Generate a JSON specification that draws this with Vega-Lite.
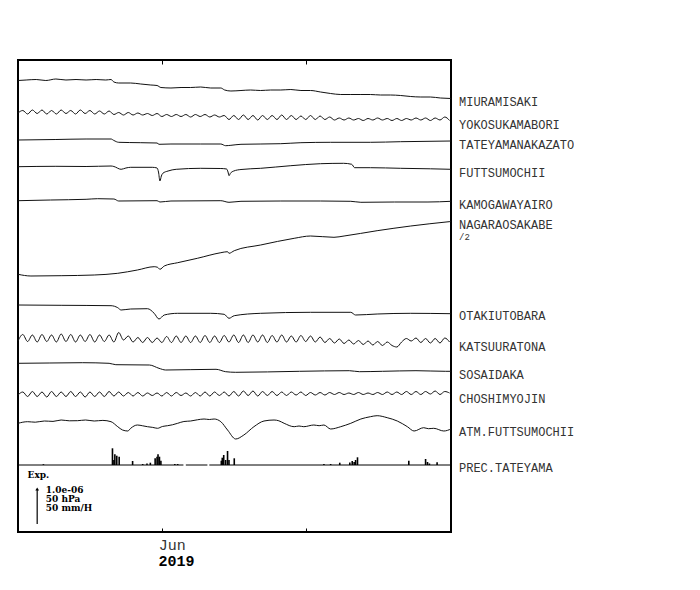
{
  "$schema": "https://vega.github.io/schema/vega-lite/v6.json",
  "width": 433,
  "height": 472,
  "padding": {"left": 16, "top": 59, "right": 0, "bottom": 30},
  "autosize": {"type": "pad"},
  "background": "white",
  "config": {"view": {"stroke": "black", "strokeWidth": 2}, "axis": {"grid": false, "domain": false}},
  "datasets": {
    "traces": [
      {"s":"MI","d":122,"v":451.5},{"s":"MI","d":123.7,"v":452},{"s":"MI","d":125.8,"v":452.5},{"s":"MI","d":127.8,"v":451.5},{"s":"MI","d":129.9,"v":453},{"s":"MI","d":132,"v":452},{"s":"MI","d":134.1,"v":452.5},{"s":"MI","d":136.2,"v":452},{"s":"MI","d":138.3,"v":452.5},{"s":"MI","d":140.3,"v":452},{"s":"MI","d":141.4,"v":452.5},{"s":"MI","d":142,"v":450},{"s":"MI","d":143,"v":449},{"s":"MI","d":145.5,"v":449},{"s":"MI","d":147.6,"v":448},{"s":"MI","d":149.7,"v":447},{"s":"MI","d":151,"v":446.5},{"s":"MI","d":151.8,"v":444.5},{"s":"MI","d":153.9,"v":444},{"s":"MI","d":156,"v":444.5},{"s":"MI","d":158,"v":444.5},{"s":"MI","d":160.1,"v":445},{"s":"MI","d":162.2,"v":444},{"s":"MI","d":164.3,"v":444},{"s":"MI","d":165.1,"v":442},{"s":"MI","d":166.4,"v":441},{"s":"MI","d":168.5,"v":441.5},{"s":"MI","d":170.5,"v":442},{"s":"MI","d":172.6,"v":441.5},{"s":"MI","d":174.7,"v":442},{"s":"MI","d":176.8,"v":442},{"s":"MI","d":178.9,"v":442.5},{"s":"MI","d":181,"v":441.5},{"s":"MI","d":183,"v":441.5},{"s":"MI","d":185.1,"v":440},{"s":"MI","d":187.2,"v":438.5},{"s":"MI","d":189.3,"v":437.5},{"s":"MI","d":191.4,"v":437.5},{"s":"MI","d":193.5,"v":437.5},{"s":"MI","d":195.5,"v":437.5},{"s":"MI","d":197.6,"v":437},{"s":"MI","d":199.7,"v":437},{"s":"MI","d":201.8,"v":436.5},{"s":"MI","d":203.9,"v":435.5},{"s":"MI","d":206,"v":435},{"s":"MI","d":208,"v":435},{"s":"MI","d":210.1,"v":434},{"s":"MI","d":212.3,"v":433.5},

      {"s":"YO","d":122,"v":419},{"s":"YO","d":123,"v":421.5},{"s":"YO","d":124,"v":418},{"s":"YO","d":125,"v":422},{"s":"YO","d":126,"v":418.5},{"s":"YO","d":127,"v":422},{"s":"YO","d":128,"v":418},{"s":"YO","d":129,"v":421.5},{"s":"YO","d":130,"v":418},{"s":"YO","d":131,"v":422},{"s":"YO","d":132,"v":418.5},{"s":"YO","d":133,"v":421.5},{"s":"YO","d":134,"v":418},{"s":"YO","d":135,"v":422},{"s":"YO","d":136,"v":418.5},{"s":"YO","d":137,"v":421.5},{"s":"YO","d":138,"v":418},{"s":"YO","d":139,"v":421},{"s":"YO","d":140,"v":418},{"s":"YO","d":141,"v":421},{"s":"YO","d":142,"v":417.5},{"s":"YO","d":143,"v":419.5},{"s":"YO","d":144,"v":417},{"s":"YO","d":145,"v":419.5},{"s":"YO","d":146,"v":417},{"s":"YO","d":147,"v":419},{"s":"YO","d":148,"v":417},{"s":"YO","d":149,"v":418.5},{"s":"YO","d":150,"v":416.5},{"s":"YO","d":151,"v":418.5},{"s":"YO","d":152,"v":415.5},{"s":"YO","d":153,"v":417.5},{"s":"YO","d":154,"v":415.5},{"s":"YO","d":155,"v":417.5},{"s":"YO","d":156,"v":415.5},{"s":"YO","d":157,"v":417.5},{"s":"YO","d":158,"v":415},{"s":"YO","d":159,"v":417.5},{"s":"YO","d":160,"v":415.5},{"s":"YO","d":161,"v":417.5},{"s":"YO","d":162,"v":415},{"s":"YO","d":163,"v":417},{"s":"YO","d":164,"v":415},{"s":"YO","d":165,"v":416.5},{"s":"YO","d":166,"v":412.5},{"s":"YO","d":167,"v":416.5},{"s":"YO","d":168,"v":412.5},{"s":"YO","d":169,"v":417},{"s":"YO","d":170,"v":412.5},{"s":"YO","d":171,"v":416.5},{"s":"YO","d":172,"v":412},{"s":"YO","d":173,"v":416.5},{"s":"YO","d":174,"v":412.5},{"s":"YO","d":175,"v":416.5},{"s":"YO","d":176,"v":412.5},{"s":"YO","d":177,"v":417},{"s":"YO","d":178,"v":412.5},{"s":"YO","d":179,"v":416.5},{"s":"YO","d":180,"v":412.5},{"s":"YO","d":181,"v":416},{"s":"YO","d":182,"v":412.5},{"s":"YO","d":183,"v":416.5},{"s":"YO","d":184,"v":412.5},{"s":"YO","d":185,"v":416},{"s":"YO","d":186,"v":412.5},{"s":"YO","d":187,"v":415},{"s":"YO","d":188,"v":412},{"s":"YO","d":189,"v":414},{"s":"YO","d":190,"v":412},{"s":"YO","d":191,"v":414},{"s":"YO","d":192,"v":412},{"s":"YO","d":193,"v":413.5},{"s":"YO","d":194,"v":411.5},{"s":"YO","d":195,"v":413.5},{"s":"YO","d":196,"v":412},{"s":"YO","d":197,"v":414},{"s":"YO","d":198,"v":412},{"s":"YO","d":199,"v":413.5},{"s":"YO","d":200,"v":411.5},{"s":"YO","d":201,"v":413.5},{"s":"YO","d":202,"v":411.5},{"s":"YO","d":203,"v":413.5},{"s":"YO","d":204,"v":412},{"s":"YO","d":205,"v":414},{"s":"YO","d":206,"v":412},{"s":"YO","d":207,"v":414},{"s":"YO","d":208,"v":411.5},{"s":"YO","d":209,"v":414},{"s":"YO","d":210,"v":412},{"s":"YO","d":211,"v":415},{"s":"YO","d":212,"v":411.5},

      {"s":"TA","d":122,"v":392},{"s":"TA","d":129.9,"v":392.5},{"s":"TA","d":136.2,"v":393},{"s":"TA","d":141.4,"v":393},{"s":"TA","d":142,"v":391.5},{"s":"TA","d":143,"v":389.7},{"s":"TA","d":147.6,"v":389.3},{"s":"TA","d":151,"v":389},{"s":"TA","d":151.4,"v":387.7},{"s":"TA","d":153.9,"v":388},{"s":"TA","d":160.1,"v":388},{"s":"TA","d":164.3,"v":388},{"s":"TA","d":165.3,"v":386.3},{"s":"TA","d":166.4,"v":386.7},{"s":"TA","d":168.5,"v":387.7},{"s":"TA","d":176.8,"v":388.3},{"s":"TA","d":181,"v":389.3},{"s":"TA","d":187.2,"v":389.7},{"s":"TA","d":195.5,"v":389.7},{"s":"TA","d":201.8,"v":390.3},{"s":"TA","d":212.3,"v":391},

      {"s":"FU","d":122,"v":365.3},{"s":"FU","d":129.9,"v":365.7},{"s":"FU","d":136.2,"v":365.5},{"s":"FU","d":141.4,"v":366},{"s":"FU","d":142,"v":365.5},{"s":"FU","d":143.5,"v":362.7},{"s":"FU","d":144.5,"v":364},{"s":"FU","d":145.5,"v":364.7},{"s":"FU","d":150,"v":364.7},{"s":"FU","d":151,"v":364},{"s":"FU","d":151.3,"v":360},{"s":"FU","d":151.6,"v":351},{"s":"FU","d":151.9,"v":356},{"s":"FU","d":152.2,"v":358.7},{"s":"FU","d":153.3,"v":361},{"s":"FU","d":155,"v":362.7},{"s":"FU","d":160.1,"v":363.7},{"s":"FU","d":164.3,"v":363.5},{"s":"FU","d":165.5,"v":363},{"s":"FU","d":165.8,"v":360},{"s":"FU","d":166,"v":356.3},{"s":"FU","d":166.3,"v":358.7},{"s":"FU","d":167,"v":361},{"s":"FU","d":168.5,"v":362.5},{"s":"FU","d":172.6,"v":363.7},{"s":"FU","d":178.9,"v":366.3},{"s":"FU","d":185.1,"v":368.3},{"s":"FU","d":189.9,"v":368.7},{"s":"FU","d":191.6,"v":367.7},{"s":"FU","d":192.2,"v":364.3},{"s":"FU","d":195.5,"v":364.3},{"s":"FU","d":201.8,"v":363.7},{"s":"FU","d":208,"v":363.2},{"s":"FU","d":212.3,"v":362.7},

      {"s":"KA","d":122,"v":331.3},{"s":"KA","d":128.8,"v":332},{"s":"KA","d":136.2,"v":332.7},{"s":"KA","d":138.6,"v":333.3},{"s":"KA","d":142,"v":333},{"s":"KA","d":143,"v":331},{"s":"KA","d":151,"v":331.3},{"s":"KA","d":151.6,"v":330},{"s":"KA","d":153.9,"v":331},{"s":"KA","d":164.3,"v":331.3},{"s":"KA","d":166,"v":329.7},{"s":"KA","d":168.5,"v":330.7},{"s":"KA","d":176.8,"v":331},{"s":"KA","d":185.1,"v":331},{"s":"KA","d":191.4,"v":330.7},{"s":"KA","d":193.5,"v":329.7},{"s":"KA","d":200.5,"v":330},{"s":"KA","d":207.5,"v":330},{"s":"KA","d":212.3,"v":330.7},

      {"s":"NA","d":122,"v":257.7},{"s":"NA","d":124.7,"v":256},{"s":"NA","d":131,"v":256.3},{"s":"NA","d":137.9,"v":257},{"s":"NA","d":142.8,"v":258.7},{"s":"NA","d":146.9,"v":262},{"s":"NA","d":150.4,"v":265.3},{"s":"NA","d":151.1,"v":264.7},{"s":"NA","d":151.6,"v":262.7},{"s":"NA","d":152.5,"v":266},{"s":"NA","d":155.3,"v":269.3},{"s":"NA","d":159.4,"v":273.7},{"s":"NA","d":164.3,"v":279.3},{"s":"NA","d":165.7,"v":280.3},{"s":"NA","d":166,"v":278.7},{"s":"NA","d":167.1,"v":281.3},{"s":"NA","d":172.6,"v":287},{"s":"NA","d":179.6,"v":293.7},{"s":"NA","d":183,"v":296},{"s":"NA","d":187.9,"v":294.7},{"s":"NA","d":190,"v":296},{"s":"NA","d":196.9,"v":301.3},{"s":"NA","d":203.9,"v":306},{"s":"NA","d":211.9,"v":310.3},{"s":"NA","d":212.3,"v":310.5},

      {"s":"OT","d":122,"v":227},{"s":"OT","d":131,"v":226.7},{"s":"OT","d":141.4,"v":226.3},{"s":"OT","d":142.8,"v":224.3},{"s":"OT","d":143.5,"v":222},{"s":"OT","d":145.5,"v":223},{"s":"OT","d":149,"v":223.3},{"s":"OT","d":150.4,"v":218.7},{"s":"OT","d":151.4,"v":213},{"s":"OT","d":152.5,"v":217},{"s":"OT","d":155.3,"v":218.7},{"s":"OT","d":162.2,"v":218.7},{"s":"OT","d":165,"v":217.7},{"s":"OT","d":166,"v":213.7},{"s":"OT","d":167.1,"v":216.3},{"s":"OT","d":172.6,"v":218.7},{"s":"OT","d":183,"v":219.7},{"s":"OT","d":191.4,"v":219.7},{"s":"OT","d":192.4,"v":217},{"s":"OT","d":196.9,"v":218},{"s":"OT","d":203.9,"v":218.7},{"s":"OT","d":212.3,"v":218.3},

      {"s":"KT","d":122,"v":191},{"s":"KT","d":123,"v":197.5},{"s":"KT","d":124,"v":190.5},{"s":"KT","d":125,"v":197},{"s":"KT","d":126,"v":190},{"s":"KT","d":127,"v":197.5},{"s":"KT","d":128,"v":190.5},{"s":"KT","d":129,"v":197},{"s":"KT","d":130,"v":190},{"s":"KT","d":131,"v":198},{"s":"KT","d":132,"v":190.5},{"s":"KT","d":133,"v":197.5},{"s":"KT","d":134,"v":190},{"s":"KT","d":135,"v":197},{"s":"KT","d":136,"v":190.5},{"s":"KT","d":137,"v":197.5},{"s":"KT","d":138,"v":190},{"s":"KT","d":139,"v":197},{"s":"KT","d":140,"v":190.5},{"s":"KT","d":141,"v":197},{"s":"KT","d":142,"v":190},{"s":"KT","d":143,"v":199.5},{"s":"KT","d":144,"v":192},{"s":"KT","d":145,"v":196},{"s":"KT","d":146,"v":190},{"s":"KT","d":147,"v":194.5},{"s":"KT","d":148,"v":189.5},{"s":"KT","d":149,"v":194.5},{"s":"KT","d":150,"v":189.5},{"s":"KT","d":151,"v":194},{"s":"KT","d":152,"v":189.5},{"s":"KT","d":153,"v":195.5},{"s":"KT","d":154,"v":189.5},{"s":"KT","d":155,"v":196},{"s":"KT","d":156,"v":189.5},{"s":"KT","d":157,"v":196},{"s":"KT","d":158,"v":189.5},{"s":"KT","d":159,"v":196},{"s":"KT","d":160,"v":189.5},{"s":"KT","d":161,"v":196.5},{"s":"KT","d":162,"v":189.5},{"s":"KT","d":163,"v":196},{"s":"KT","d":164,"v":189.5},{"s":"KT","d":165,"v":196.5},{"s":"KT","d":166,"v":190},{"s":"KT","d":167,"v":197},{"s":"KT","d":168,"v":189.5},{"s":"KT","d":169,"v":197},{"s":"KT","d":170,"v":189.5},{"s":"KT","d":171,"v":197},{"s":"KT","d":172,"v":190},{"s":"KT","d":173,"v":197},{"s":"KT","d":174,"v":189.5},{"s":"KT","d":175,"v":196.5},{"s":"KT","d":176,"v":190},{"s":"KT","d":177,"v":197},{"s":"KT","d":178,"v":190},{"s":"KT","d":179,"v":196},{"s":"KT","d":180,"v":190},{"s":"KT","d":181,"v":196.5},{"s":"KT","d":182,"v":190.5},{"s":"KT","d":183,"v":196},{"s":"KT","d":184,"v":190},{"s":"KT","d":185,"v":195},{"s":"KT","d":186,"v":189.5},{"s":"KT","d":187,"v":193.5},{"s":"KT","d":188,"v":189},{"s":"KT","d":189,"v":193},{"s":"KT","d":190,"v":188.5},{"s":"KT","d":191,"v":192},{"s":"KT","d":192,"v":188},{"s":"KT","d":193,"v":191.5},{"s":"KT","d":194,"v":187.5},{"s":"KT","d":195,"v":191},{"s":"KT","d":196,"v":187},{"s":"KT","d":197,"v":190.5},{"s":"KT","d":198,"v":186.5},{"s":"KT","d":199,"v":190},{"s":"KT","d":200,"v":186.5},{"s":"KT","d":201,"v":185},{"s":"KT","d":202,"v":190},{"s":"KT","d":203,"v":193.5},{"s":"KT","d":204,"v":191},{"s":"KT","d":205,"v":194},{"s":"KT","d":206,"v":189.5},{"s":"KT","d":207,"v":193.5},{"s":"KT","d":208,"v":189},{"s":"KT","d":209,"v":193.5},{"s":"KT","d":210,"v":189},{"s":"KT","d":211,"v":194},{"s":"KT","d":212,"v":190},

      {"s":"SO","d":122,"v":168.7},{"s":"SO","d":128.5,"v":169},{"s":"SO","d":135.5,"v":169.3},{"s":"SO","d":141,"v":168.7},{"s":"SO","d":142.4,"v":167.3},{"s":"SO","d":149.4,"v":167},{"s":"SO","d":151.4,"v":163.7},{"s":"SO","d":152.8,"v":162},{"s":"SO","d":163.3,"v":162.7},{"s":"SO","d":165.3,"v":160.3},{"s":"SO","d":167.4,"v":159.7},{"s":"SO","d":180.7,"v":160.7},{"s":"SO","d":191.1,"v":161.3},{"s":"SO","d":193.2,"v":160.3},{"s":"SO","d":198,"v":160.7},{"s":"SO","d":205,"v":161.3},{"s":"SO","d":211.2,"v":160.7},{"s":"SO","d":212.3,"v":160.7},

      {"s":"CH","d":122,"v":137},{"s":"CH","d":123,"v":140},{"s":"CH","d":124,"v":135.5},{"s":"CH","d":125,"v":140.5},{"s":"CH","d":126,"v":135.5},{"s":"CH","d":127,"v":140},{"s":"CH","d":128,"v":135},{"s":"CH","d":129,"v":140.5},{"s":"CH","d":130,"v":135.5},{"s":"CH","d":131,"v":140},{"s":"CH","d":132,"v":135.5},{"s":"CH","d":133,"v":140.5},{"s":"CH","d":134,"v":135.5},{"s":"CH","d":135,"v":140},{"s":"CH","d":136,"v":135},{"s":"CH","d":137,"v":140},{"s":"CH","d":138,"v":135.5},{"s":"CH","d":139,"v":140},{"s":"CH","d":140,"v":135.5},{"s":"CH","d":141,"v":140.5},{"s":"CH","d":142,"v":136},{"s":"CH","d":143,"v":140},{"s":"CH","d":144,"v":136},{"s":"CH","d":145,"v":139.5},{"s":"CH","d":146,"v":136},{"s":"CH","d":147,"v":139.5},{"s":"CH","d":148,"v":136},{"s":"CH","d":149,"v":139},{"s":"CH","d":150,"v":136.5},{"s":"CH","d":151,"v":139},{"s":"CH","d":152,"v":136},{"s":"CH","d":153,"v":139.5},{"s":"CH","d":154,"v":136},{"s":"CH","d":155,"v":139.5},{"s":"CH","d":156,"v":136.5},{"s":"CH","d":157,"v":139},{"s":"CH","d":158,"v":136},{"s":"CH","d":159,"v":139.5},{"s":"CH","d":160,"v":136},{"s":"CH","d":161,"v":140},{"s":"CH","d":162,"v":136},{"s":"CH","d":163,"v":140},{"s":"CH","d":164,"v":136.5},{"s":"CH","d":165,"v":140},{"s":"CH","d":166,"v":136},{"s":"CH","d":167,"v":140.5},{"s":"CH","d":168,"v":136},{"s":"CH","d":169,"v":141},{"s":"CH","d":170,"v":136.5},{"s":"CH","d":171,"v":141},{"s":"CH","d":172,"v":136},{"s":"CH","d":173,"v":140.5},{"s":"CH","d":174,"v":136.5},{"s":"CH","d":175,"v":140.5},{"s":"CH","d":176,"v":136.5},{"s":"CH","d":177,"v":140},{"s":"CH","d":178,"v":136.5},{"s":"CH","d":179,"v":140},{"s":"CH","d":180,"v":137},{"s":"CH","d":181,"v":140},{"s":"CH","d":182,"v":136.5},{"s":"CH","d":183,"v":139.5},{"s":"CH","d":184,"v":137},{"s":"CH","d":185,"v":139.5},{"s":"CH","d":186,"v":137},{"s":"CH","d":187,"v":139.5},{"s":"CH","d":188,"v":137.5},{"s":"CH","d":189,"v":139.5},{"s":"CH","d":190,"v":137.5},{"s":"CH","d":191,"v":139},{"s":"CH","d":192,"v":137.5},{"s":"CH","d":193,"v":139.5},{"s":"CH","d":194,"v":137.5},{"s":"CH","d":195,"v":139},{"s":"CH","d":196,"v":137.5},{"s":"CH","d":197,"v":139.5},{"s":"CH","d":198,"v":137.5},{"s":"CH","d":199,"v":140},{"s":"CH","d":200,"v":137.5},{"s":"CH","d":201,"v":140},{"s":"CH","d":202,"v":137.5},{"s":"CH","d":203,"v":140.5},{"s":"CH","d":204,"v":137.5},{"s":"CH","d":205,"v":140.5},{"s":"CH","d":206,"v":137.5},{"s":"CH","d":207,"v":140.5},{"s":"CH","d":208,"v":138},{"s":"CH","d":209,"v":141},{"s":"CH","d":210,"v":137.5},{"s":"CH","d":211,"v":140.5},{"s":"CH","d":212,"v":139},

      {"s":"AT","d":122,"v":108.7},{"s":"AT","d":124,"v":110.3},{"s":"AT","d":125.6,"v":109.8},{"s":"AT","d":127.5,"v":111},{"s":"AT","d":129.3,"v":110.6},{"s":"AT","d":131,"v":112},{"s":"AT","d":132.7,"v":111.2},{"s":"AT","d":134.4,"v":111.3},{"s":"AT","d":136.1,"v":112},{"s":"AT","d":137.9,"v":111},{"s":"AT","d":139.7,"v":111.6},{"s":"AT","d":141.4,"v":110.3},{"s":"AT","d":142.8,"v":105.3},{"s":"AT","d":143.8,"v":102},{"s":"AT","d":144.9,"v":101},{"s":"AT","d":145.5,"v":103.7},{"s":"AT","d":146.9,"v":107},{"s":"AT","d":148,"v":106.2},{"s":"AT","d":149,"v":105.3},{"s":"AT","d":150.1,"v":104.6},{"s":"AT","d":151.1,"v":103.7},{"s":"AT","d":152.1,"v":105.5},{"s":"AT","d":153.2,"v":106.3},{"s":"AT","d":154.2,"v":107.2},{"s":"AT","d":155.3,"v":108.7},{"s":"AT","d":156.6,"v":110.5},{"s":"AT","d":158,"v":111},{"s":"AT","d":159.4,"v":112.2},{"s":"AT","d":160.8,"v":113},{"s":"AT","d":161.9,"v":112.5},{"s":"AT","d":162.9,"v":113},{"s":"AT","d":164.3,"v":110.3},{"s":"AT","d":165.7,"v":102},{"s":"AT","d":167.4,"v":93},{"s":"AT","d":169.1,"v":97},{"s":"AT","d":171.2,"v":105.3},{"s":"AT","d":173.3,"v":111},{"s":"AT","d":175.4,"v":112},{"s":"AT","d":176.4,"v":111.2},{"s":"AT","d":177.5,"v":108.7},{"s":"AT","d":179.6,"v":105.3},{"s":"AT","d":180.6,"v":106},{"s":"AT","d":181.6,"v":105.3},{"s":"AT","d":183.7,"v":107},{"s":"AT","d":184.8,"v":106.3},{"s":"AT","d":185.8,"v":107},{"s":"AT","d":187.2,"v":103},{"s":"AT","d":189.3,"v":105.3},{"s":"AT","d":191.4,"v":108.7},{"s":"AT","d":193.5,"v":113},{"s":"AT","d":195.5,"v":115.3},{"s":"AT","d":196.9,"v":116.3},{"s":"AT","d":199,"v":114.3},{"s":"AT","d":201.1,"v":111},{"s":"AT","d":203.2,"v":105.3},{"s":"AT","d":204.6,"v":101},{"s":"AT","d":206.6,"v":104.3},{"s":"AT","d":207.6,"v":103.3},{"s":"AT","d":208.7,"v":103.7},{"s":"AT","d":210.8,"v":101},{"s":"AT","d":212.3,"v":103}
    ],
    "prec": [
      {"d":127.3,"v":67.8},{"d":141.7,"v":83.7},{"d":142,"v":72},{"d":142.2,"v":77.7},{"d":142.6,"v":76.3},{"d":143.1,"v":75.3},{"d":145.9,"v":71},{"d":148,"v":68},{"d":148.9,"v":68.5},{"d":149.6,"v":69.3},{"d":150.6,"v":73.7},{"d":151,"v":75.3},{"d":151.2,"v":77.7},{"d":151.5,"v":75.3},{"d":151.8,"v":71.3},{"d":154.7,"v":68},{"d":155.3,"v":68},{"d":164.4,"v":71.3},{"d":164.6,"v":74.3},{"d":164.9,"v":77},{"d":165.3,"v":72},{"d":165.7,"v":81},{"d":166,"v":72},{"d":167.1,"v":73.7},{"d":185.8,"v":68},{"d":187.2,"v":68},{"d":189.1,"v":69.3},{"d":191.2,"v":69.5},{"d":191.7,"v":71},{"d":192.1,"v":70},{"d":192.4,"v":72},{"d":192.8,"v":74.7},{"d":203.5,"v":71.3},{"d":207,"v":73},{"d":207.4,"v":70},{"d":207.8,"v":68.5},{"d":209.4,"v":69.7}
    ],
    "base": [
      {"d":122,"d2":156.5,"v":67},{"d":157,"d2":161.5,"v":67},{"d":161.9,"d2":212.3,"v":67}
    ],
    "arrow": [
      {"d":126,"v":8,"v2":43}
    ],
    "scaletext": [
      {"t":"Exp.","d":124,"v":54.5},{"t":"1.0e-06","d":127.8,"v":39.5},{"t":"50 hPa","d":127.8,"v":30.5},{"t":"50 mm/H","d":127.8,"v":21.5}
    ]
  },
  "layer": [
    {
      "data": {"name": "traces"},
      "mark": {"type": "line", "interpolate": "monotone", "strokeWidth": 1, "color": "#111"},
      "encoding": {
        "x": {"field": "d", "type": "quantitative", "scale": {"domain": [122, 212.3], "nice": false, "zero": false},
          "axis": {"orient": "bottom", "values": [152, 182], "labelExpr": "datum.value == 152 ? 'Jun' : ''",
            "tickSize": -4, "tickColor": "black", "tickWidth": 1,
            "labelFont": "Liberation Mono", "labelFontSize": 15, "labelColor": "#333", "labelAlign": "left", "labelOffset": -3.5,
            "labelBaseline": "alphabetic", "labelPadding": 21.5,
            "title": "2019", "titleFont": "Liberation Mono", "titleFontSize": 15, "titleFontWeight": "bold", "titleColor": "black",
            "titleAnchor": "start", "titleAlign": "left", "titleBaseline": "alphabetic", "titleX": 140, "titleY": 33}},
        "y": {"field": "v", "type": "quantitative", "scale": {"domain": [0, 472], "nice": false, "zero": false},
          "axis": {"orient": "right", "values": [431, 408, 387.5, 359.5, 327.5, 307.5, 296, 216.5, 185.5, 157.5, 134, 101, 65],
            "labelExpr": "datum.value == 431 ? 'MIURAMISAKI' : datum.value == 408 ? 'YOKOSUKAMABORI' : datum.value == 387.5 ? 'TATEYAMANAKAZATO' : datum.value == 359.5 ? 'FUTTSUMOCHII' : datum.value == 327.5 ? 'KAMOGAWAYAIRO' : datum.value == 307.5 ? 'NAGARAOSAKABE' : datum.value == 296 ? '/2' : datum.value == 216.5 ? 'OTAKIUTOBARA' : datum.value == 185.5 ? 'KATSUURATONA' : datum.value == 157.5 ? 'SOSAIDAKA' : datum.value == 134 ? 'CHOSHIMYOJIN' : datum.value == 101 ? 'ATM.FUTTSUMOCHII' : 'PREC.TATEYAMA'",
            "ticks": false, "tickSize": 0, "labelPadding": 7.5, "labelFont": "Liberation Mono",
            "labelFontSize": {"condition": {"test": "datum.value == 296", "value": 9}, "value": 12},
            "labelColor": "#333", "labelOverlap": false, "labelBound": false, "labelFlush": false, "title": null}},
        "detail": {"field": "s"}
      }
    },
    {
      "data": {"name": "prec"},
      "mark": {"type": "rule", "strokeWidth": 1.6, "color": "black"},
      "encoding": {
        "x": {"field": "d", "type": "quantitative",
          "axis": {"orient": "top", "values": [152, 182], "labels": false, "tickSize": -4, "tickColor": "black", "tickWidth": 1, "title": null}},
        "y": {"field": "v", "type": "quantitative", "axis": null},
        "y2": {"datum": 67}
      }
    },
    {
      "data": {"name": "base"},
      "mark": {"type": "rule", "strokeWidth": 1, "color": "black"},
      "encoding": {
        "x": {"field": "d", "type": "quantitative", "axis": null},
        "x2": {"field": "d2"},
        "y": {"field": "v", "type": "quantitative", "axis": null}
      }
    },
    {
      "data": {"name": "arrow"},
      "mark": {"type": "rule", "strokeWidth": 1.2, "color": "black"},
      "encoding": {
        "x": {"field": "d", "type": "quantitative", "axis": null},
        "y": {"field": "v", "type": "quantitative", "axis": null},
        "y2": {"field": "v2"}
      }
    },
    {
      "data": {"name": "arrow"},
      "mark": {"type": "point", "shape": "triangle-up", "filled": true, "size": 14, "color": "black", "opacity": 1},
      "encoding": {
        "x": {"field": "d", "type": "quantitative", "axis": null},
        "y": {"field": "v2", "type": "quantitative", "axis": null}
      }
    },
    {
      "data": {"name": "scaletext"},
      "mark": {"type": "text", "align": "left", "baseline": "alphabetic", "font": "DejaVu Serif", "fontWeight": "bold", "fontSize": 9, "color": "black"},
      "encoding": {
        "x": {"field": "d", "type": "quantitative", "axis": null},
        "y": {"field": "v", "type": "quantitative", "axis": null},
        "text": {"field": "t"}
      }
    }
  ],
  "resolve": {"axis": {"x": "independent", "y": "independent"}}
}
